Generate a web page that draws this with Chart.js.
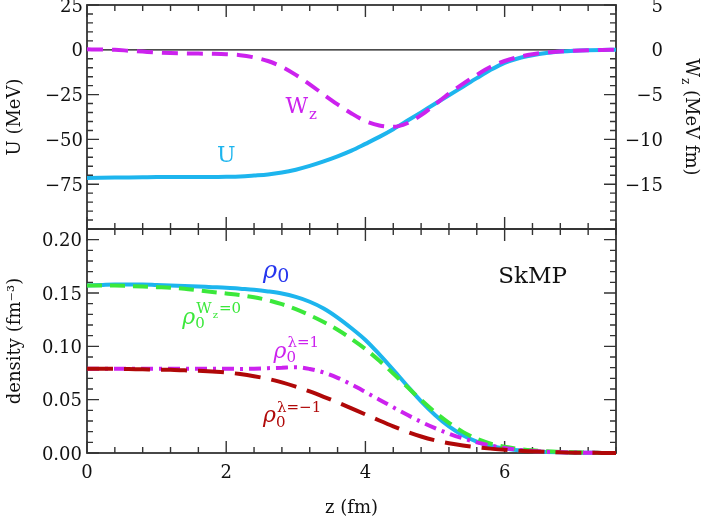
<!DOCTYPE html>
<html>
<head>
<meta charset="utf-8">
<script src="https://cdn.jsdelivr.net/npm/chart.js@4.4.1/dist/chart.umd.min.js"></script>
<style>
  html, body { margin: 0; padding: 0; background: #fff; }
  #wrap { position: relative; width: 706px; height: 520px; }
  #wrap canvas { position: absolute; left: 0; top: 0; }
</style>
</head>
<body>
<div id="wrap">
  <canvas id="bottomChart" width="706" height="520"></canvas>
  <canvas id="topChart" width="706" height="520"></canvas>
</div>
<script>
// z grid (fm)
const z = [0, 0.2, 0.4, 0.6, 0.8, 1, 1.2, 1.4, 1.6, 1.8, 2, 2.2, 2.4, 2.6, 2.8, 3, 3.2, 3.4, 3.6, 3.8,
           4, 4.2, 4.4, 4.6, 4.8, 5, 5.2, 5.4, 5.6, 5.8, 6, 6.2, 6.4, 6.6, 6.8, 7, 7.2, 7.4, 7.6];

// top panel: U (MeV) and W_z (MeV fm)
const uPot = [-71.5, -71.4, -71.3, -71.2, -71.1, -71.0, -71.0, -71.0, -71.0, -71.0, -70.9, -70.7, -70.2, -69.6, -68.5,
              -66.9, -64.8, -62.3, -59.5, -56.3, -52.5, -48.6, -44.3, -39.6, -34.9, -30.1, -25.4, -20.6, -15.8, -11.2,
              -7.3, -4.7, -3.0, -1.8, -1.0, -0.5, -0.25, -0.1, 0];
const wz = [0.05, 0.03, 0.0, -0.1, -0.2, -0.3, -0.37, -0.4, -0.42, -0.45, -0.5, -0.6, -0.85, -1.25, -1.9,
            -2.8, -3.85, -5.0, -6.1, -7.1, -7.95, -8.45, -8.6, -8.2, -7.3, -6.1, -4.9, -3.8, -2.8, -1.9,
            -1.25, -0.8, -0.5, -0.3, -0.18, -0.1, -0.05, -0.02, 0];

// bottom panel: densities (fm^-3)
const rho0 = [0.157, 0.1575, 0.158, 0.158, 0.158, 0.1575, 0.157, 0.1565, 0.156, 0.1555, 0.155, 0.154, 0.153, 0.1515, 0.1495,
              0.1463, 0.1418, 0.1355, 0.127, 0.117, 0.106, 0.0925, 0.078, 0.063, 0.0485, 0.0357, 0.0249, 0.0166, 0.0106, 0.0066,
              0.0041, 0.0026, 0.0016, 0.001, 0.0006, 0.0003, 0.0002, 0.0001, 0];
const rhoNoW = [0.157, 0.157, 0.157, 0.1565, 0.156, 0.1555, 0.155, 0.154, 0.1525, 0.151, 0.1495, 0.148, 0.146, 0.1432, 0.1395,
                0.1348, 0.1292, 0.1228, 0.1155, 0.107, 0.0975, 0.0865, 0.0745, 0.062, 0.0497, 0.0383, 0.0283, 0.0198, 0.0133, 0.0088,
                0.0058, 0.0038, 0.0025, 0.0016, 0.001, 0.0006, 0.0003, 0.0001, 0];
const rhoLp1 = [0.079, 0.079, 0.079, 0.079, 0.079, 0.079, 0.079, 0.079, 0.079, 0.079, 0.079, 0.0788, 0.079, 0.0795, 0.080,
                0.0805, 0.0788, 0.0755, 0.0705, 0.0642, 0.0572, 0.050, 0.0428, 0.0358, 0.0292, 0.0233, 0.0181, 0.0137, 0.0100, 0.0070,
                0.0047, 0.003, 0.0019, 0.0012, 0.0007, 0.0004, 0.0002, 0.0001, 0];
const rhoLm1 = [0.079, 0.079, 0.079, 0.0787, 0.0785, 0.0782, 0.078, 0.0775, 0.077, 0.0763, 0.0755, 0.074, 0.072, 0.0695, 0.0662,
                0.0622, 0.0577, 0.0527, 0.0474, 0.0418, 0.0362, 0.0305, 0.025, 0.0199, 0.0155, 0.0119, 0.0091, 0.007, 0.0054, 0.0041,
                0.0031, 0.0022, 0.0015, 0.001, 0.0006, 0.0003, 0.0002, 0.0001, 0];

// tick labels
const xTickLabels = [0, 2, 4, 6];
const uTickLabels = [25, 0, -25, -50, -75];
const wTickLabels = [5, 0, -5, -10, -15];
const rhoTickLabels = [0, 0.05, 0.10, 0.15, 0.20];

const cyan = '#1db5ee';
const magenta = '#cc22ee';
const green = '#3be83b';
const red = '#b00808';
const blue = '#2636ee';
const FONT = '"DejaVu Serif"';

Chart.defaults.font.family = FONT;
Chart.defaults.color = '#111';

const pts = arr => z.map((x, i) => ({ x: x, y: arr[i] }));
const minus = s => s.replace('-', '\u2212');

function fixSize(w, h) {
  return function (scale) {
    if (w !== undefined) scale.width = w;
    if (h !== undefined) scale.height = h;
    scale.paddingTop = 0; scale.paddingBottom = 0;
    scale.paddingLeft = 0; scale.paddingRight = 0;
  };
}

// box + inward ticks on all four sides
function framePlugin(yId, yMinor, yMajorEvery) {
  return {
    id: 'frame',
    beforeDatasetsDraw(chart) {
      const { ctx, chartArea: a, scales } = chart;
      const sx = scales.x, sy = scales[yId];
      ctx.save();
      ctx.strokeStyle = '#333';
      ctx.lineWidth = 1.4;
      ctx.beginPath();
      const nx = Math.round(sx.max / 0.4);
      for (let i = 0; i <= nx; i++) {
        const px = sx.getPixelForValue(i * 0.4);
        const len = i % 5 === 0 ? 12 : 6;
        ctx.moveTo(px, a.top); ctx.lineTo(px, a.top + len);
        ctx.moveTo(px, a.bottom); ctx.lineTo(px, a.bottom - len);
      }
      const i0 = Math.ceil(sy.min / yMinor - 1e-6), i1 = Math.floor(sy.max / yMinor + 1e-6);
      for (let i = i0; i <= i1; i++) {
        const py = sy.getPixelForValue(i * yMinor);
        const len = i % yMajorEvery === 0 ? 12 : 6;
        ctx.moveTo(a.left, py); ctx.lineTo(a.left + len, py);
        ctx.moveTo(a.right, py); ctx.lineTo(a.right - len, py);
      }
      ctx.stroke();
      ctx.lineWidth = 1.8;
      ctx.strokeRect(a.left, a.top, a.right - a.left, a.bottom - a.top);
      ctx.restore();
    }
  };
}

// W with subscript z, returns width
function drawWz(ctx, x, y, big, small, color) {
  ctx.fillStyle = color;
  ctx.font = big + 'px ' + FONT;
  ctx.fillText('W', x, y);
  const w = ctx.measureText('W').width;
  ctx.font = small + 'px ' + FONT;
  ctx.fillText('z', x + w + 1, y + big * 0.3);
  return w + 1 + ctx.measureText('z').width;
}

function drawRho(ctx, x, yBottom, color, rhoSize, subSize, sup) {
  ctx.fillStyle = color;
  ctx.font = 'italic ' + rhoSize + 'px ' + FONT;
  ctx.fillText('\u03c1', x, yBottom - 0.2 * rhoSize);
  const w = ctx.measureText('\u03c1').width;
  ctx.font = subSize + 'px ' + FONT;
  ctx.fillText('0', x + w, yBottom);
  if (!sup) return;
  let sx = x + w + 1;
  const sy = yBottom - 15;
  if (sup === 'Wz') {
    sx += drawWz(ctx, sx, sy, 15, 10, color) + 1;
    ctx.font = '15px ' + FONT;
    ctx.fillText('=0', sx, sy);
  } else {
    ctx.font = '15px ' + FONT;
    ctx.fillText(sup, sx, sy);
  }
}

const topLabels = {
  id: 'topLabels',
  afterDatasetsDraw(chart) {
    const { ctx, chartArea: a, scales: { x, yU, yW } } = chart;
    ctx.save();
    ctx.textBaseline = 'alphabetic';
    ctx.textAlign = 'center';
    ctx.fillStyle = cyan;
    ctx.font = '22px ' + FONT;
    ctx.fillText('U', x.getPixelForValue(2.0), yU.getPixelForValue(-62.8));
    ctx.textAlign = 'left';
    drawWz(ctx, x.getPixelForValue(2.85), yW.getPixelForValue(-7.0), 22, 15, magenta);
    // right axis title, rotated clockwise
    ctx.translate(a.right + 75, (a.top + a.bottom) / 2);
    ctx.rotate(Math.PI / 2);
    ctx.font = '18px ' + FONT;
    const rest = ' (MeV fm)';
    const wW = ctx.measureText('W').width;
    const wR = ctx.measureText(rest).width;
    ctx.font = '12px ' + FONT;
    const wZ = ctx.measureText('z').width;
    const total = wW + 1 + wZ + wR;
    ctx.textBaseline = 'middle';
    ctx.fillStyle = '#111';
    let cx = -total / 2;
    ctx.font = '18px ' + FONT;
    ctx.fillText('W', cx, 0);
    cx += wW + 1;
    ctx.font = '12px ' + FONT;
    ctx.fillText('z', cx, 6);
    cx += wZ;
    ctx.font = '18px ' + FONT;
    ctx.fillText(rest, cx, 0);
    ctx.restore();
  }
};

const bottomLabels = {
  id: 'bottomLabels',
  afterDatasetsDraw(chart) {
    const { ctx, scales: { x, yD } } = chart;
    ctx.save();
    ctx.textBaseline = 'alphabetic';
    ctx.textAlign = 'left';
    drawRho(ctx, x.getPixelForValue(2.53), yD.getPixelForValue(0.160), blue, 24, 19, null);
    drawRho(ctx, x.getPixelForValue(1.37), yD.getPixelForValue(0.117), green, 22, 15, 'Wz');
    drawRho(ctx, x.getPixelForValue(2.68), yD.getPixelForValue(0.0853), magenta, 22, 15, '\u03bb=1');
    drawRho(ctx, x.getPixelForValue(2.53), yD.getPixelForValue(0.0246), red, 22, 15, '\u03bb=\u22121');
    ctx.fillStyle = '#111';
    ctx.font = '23px ' + FONT;
    ctx.fillText('SkMP', x.getPixelForValue(5.91), yD.getPixelForValue(0.159));
    ctx.restore();
  }
};

const line = (data, yAxisID, color, width, dash) => ({
  data: data, yAxisID: yAxisID, borderColor: color, borderWidth: width,
  borderDash: dash || [], pointRadius: 0, fill: false,
  cubicInterpolationMode: 'monotone', clip: 5
});

const tickFont = { size: 18 };
const noGrid = { display: false, drawTicks: false };

new Chart(document.getElementById('topChart'), {
  type: 'line',
  data: {
    datasets: [
      line(pts(wz), 'yW', magenta, 4, [16, 9]),
      line(pts(uPot), 'yU', cyan, 4),
      line([{ x: 0, y: 0 }, { x: 7.6, y: 0 }], 'yU', '#111', 1.3)
    ]
  },
  options: {
    responsive: false, animation: false, events: [],
    layout: { padding: { top: 5, bottom: 291, left: 0, right: 43 } },
    plugins: { legend: { display: false }, tooltip: { enabled: false } },
    scales: {
      x: { type: 'linear', min: 0, max: 7.6, display: false },
      yU: {
        position: 'left', min: -100, max: 25,
        grid: noGrid, border: { display: false },
        afterFit: fixSize(87),
        ticks: {
          stepSize: 25, includeBounds: false, font: tickFont, padding: 4, labelOffset: 2, color: '#111',
          callback: v => uTickLabels.includes(v) ? minus(String(v)) : null
        },
        title: { display: true, text: 'U (MeV)', font: { size: 18 }, padding: { top: 5, bottom: 0 }, color: '#111' }
      },
      yW: {
        position: 'right', min: -20, max: 5,
        grid: noGrid, border: { display: false },
        afterFit: fixSize(47),
        ticks: {
          stepSize: 5, includeBounds: false, font: tickFont, padding: 12, crossAlign: 'far', labelOffset: 2, color: '#111',
          callback: v => wTickLabels.includes(v) ? minus(String(v)) : null
        }
      }
    }
  },
  plugins: [framePlugin('yU', 5, 5), topLabels]
});

new Chart(document.getElementById('bottomChart'), {
  type: 'line',
  data: {
    datasets: [
      line(pts(rhoLm1), 'yD', red, 4, [26, 11]),
      line(pts(rhoLp1), 'yD', magenta, 4, [12, 6, 3, 6]),
      line(pts(rhoNoW), 'yD', green, 4, [15, 8]),
      line(pts(rho0), 'yD', cyan, 4)
    ]
  },
  options: {
    responsive: false, animation: false, events: [],
    layout: { padding: { top: 229, bottom: 0, left: 0, right: 90 } },
    plugins: { legend: { display: false }, tooltip: { enabled: false } },
    scales: {
      x: {
        type: 'linear', min: 0, max: 7.6,
        grid: noGrid, border: { display: false },
        afterFit: fixSize(undefined, 67),
        ticks: {
          stepSize: 2, includeBounds: false, font: tickFont, padding: 10, maxRotation: 0, color: '#111',
          callback: v => xTickLabels.includes(v) ? String(v) : null
        },
        title: { display: true, text: 'z (fm)', font: { size: 18 }, padding: { top: 0, bottom: 1 }, color: '#111' }
      },
      yD: {
        position: 'left', min: 0, max: 0.21,
        grid: noGrid, border: { display: false },
        afterFit: fixSize(87),
        ticks: {
          stepSize: 0.05, includeBounds: false, font: tickFont, padding: 5, labelOffset: 2, color: '#111',
          callback: v => rhoTickLabels.some(t => Math.abs(t - v) < 1e-6) ? v.toFixed(2) : null
        },
        title: { display: true, text: 'density (fm\u207b\u00b3)', font: { size: 18 }, padding: { top: 5, bottom: 0 }, color: '#111' }
      }
    }
  },
  plugins: [framePlugin('yD', 0.01, 5), bottomLabels]
});
</script>
</body>
</html>
